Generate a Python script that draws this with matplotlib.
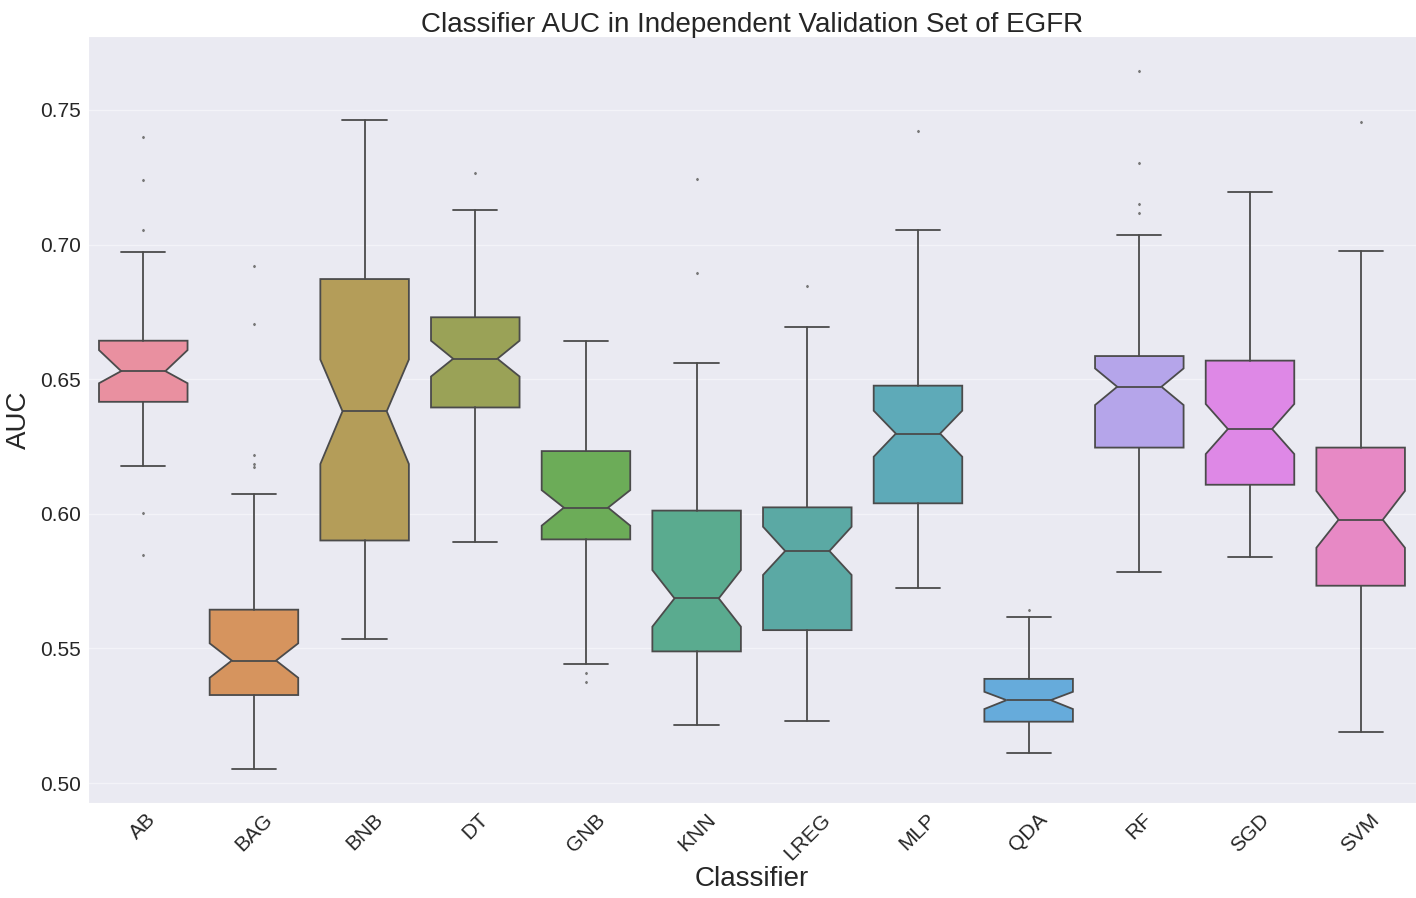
import colorsys
import matplotlib
matplotlib.use('Agg')
import matplotlib.pyplot as plt
import seaborn as sns

sns.set_style('darkgrid')
plt.rcParams['font.family'] = ['Liberation Sans', 'DejaVu Sans']

classifiers = ['AB', 'BAG', 'BNB', 'DT', 'GNB', 'KNN', 'LREG', 'MLP', 'QDA', 'RF', 'SGD', 'SVM']
whislo = [0.6178, 0.5052, 0.5536, 0.5895, 0.5441, 0.5216, 0.5230, 0.5726, 0.5113, 0.5784, 0.5840, 0.5191]
q1 = [0.6416, 0.5327, 0.5901, 0.6395, 0.5905, 0.5489, 0.5568, 0.6039, 0.5228, 0.6246, 0.6108, 0.5733]
med = [0.6530, 0.5455, 0.6381, 0.6576, 0.6023, 0.5686, 0.5862, 0.6298, 0.5308, 0.6472, 0.6315, 0.5978]
q3 = [0.6643, 0.5644, 0.6872, 0.6730, 0.6233, 0.6012, 0.6024, 0.6476, 0.5387, 0.6586, 0.6569, 0.6246]
whishi = [0.6971, 0.6073, 0.7463, 0.7129, 0.6642, 0.6560, 0.6695, 0.7055, 0.5616, 0.7036, 0.7194, 0.6976]
ci_lo = [0.6485, 0.5391, 0.6185, 0.6510, 0.5956, 0.5581, 0.5773, 0.6212, 0.5275, 0.6404, 0.6222, 0.5874]
ci_hi = [0.6608, 0.5519, 0.6573, 0.6643, 0.6088, 0.5791, 0.5952, 0.6383, 0.5339, 0.6540, 0.6408, 0.6085]
fliers = [
    [0.7401, 0.7240, 0.7054, 0.6003, 0.5847],
    [0.6921, 0.6704, 0.6217, 0.6186, 0.6173],
    [],
    [0.7266],
    [0.5407, 0.5375],
    [0.7244, 0.6894],
    [0.6847],
    [0.7422],
    [0.5643],
    [0.7645, 0.7302, 0.7151, 0.7118],
    [],
    [0.7455],
]

stats = []
for i, name in enumerate(classifiers):
    stats.append(dict(label=name, whislo=whislo[i], q1=q1[i], med=med[i], q3=q3[i],
                      whishi=whishi[i], cilo=ci_lo[i], cihi=ci_hi[i], fliers=fliers[i]))

# seaborn-ish husl palette, desaturated and a touch lighter
colors = [sns.desaturate(c, 0.75) for c in sns.husl_palette(len(classifiers))]
colors = [tuple(0.88 * v + 0.12 for v in c) for c in colors]
lum = min(colorsys.rgb_to_hls(*c)[1] for c in colors) * 0.6
gray = (lum, lum, lum)

fig = plt.figure(figsize=(14.16, 8.98), dpi=100)
ax = fig.add_axes([0.0621, 0.1058, 0.9379, 0.8542])

lw = 1.3
bp = ax.bxp(stats, positions=range(len(classifiers)), widths=0.8, shownotches=True,
            patch_artist=True,
            boxprops=dict(edgecolor=gray, linewidth=lw),
            whiskerprops=dict(color=gray, linewidth=lw),
            capprops=dict(color=gray, linewidth=lw),
            medianprops=dict(color=gray, linewidth=lw),
            flierprops=dict(marker='d', markersize=1.2, markerfacecolor='#777777',
                            markeredgecolor='#777777', linestyle='none'))
for patch, c in zip(bp['boxes'], colors):
    patch.set_facecolor(c)

ax.set_xlim(-0.5, len(classifiers) - 0.5)
ax.set_ylim(0.4926, 0.7775)
ax.set_yticks([0.50, 0.55, 0.60, 0.65, 0.70, 0.75])
ax.set_yticklabels(['0.50', '0.55', '0.60', '0.65', '0.70', '0.75'])
ax.set_xticks(range(len(classifiers)))
ax.set_xticklabels(classifiers, rotation=45)
ax.xaxis.grid(False)
ax.yaxis.grid(True, color='#f3f3f8', linewidth=1)
ax.tick_params(axis='both', labelsize=15, length=0, pad=5)
ax.set_xlabel('Classifier', fontsize=20, labelpad=2)
ax.set_ylabel('AUC', fontsize=20, labelpad=6)
ax.set_title('Classifier AUC in Independent Validation Set of EGFR', fontsize=20, pad=3)

fig.savefig('out.png', dpi=100)
